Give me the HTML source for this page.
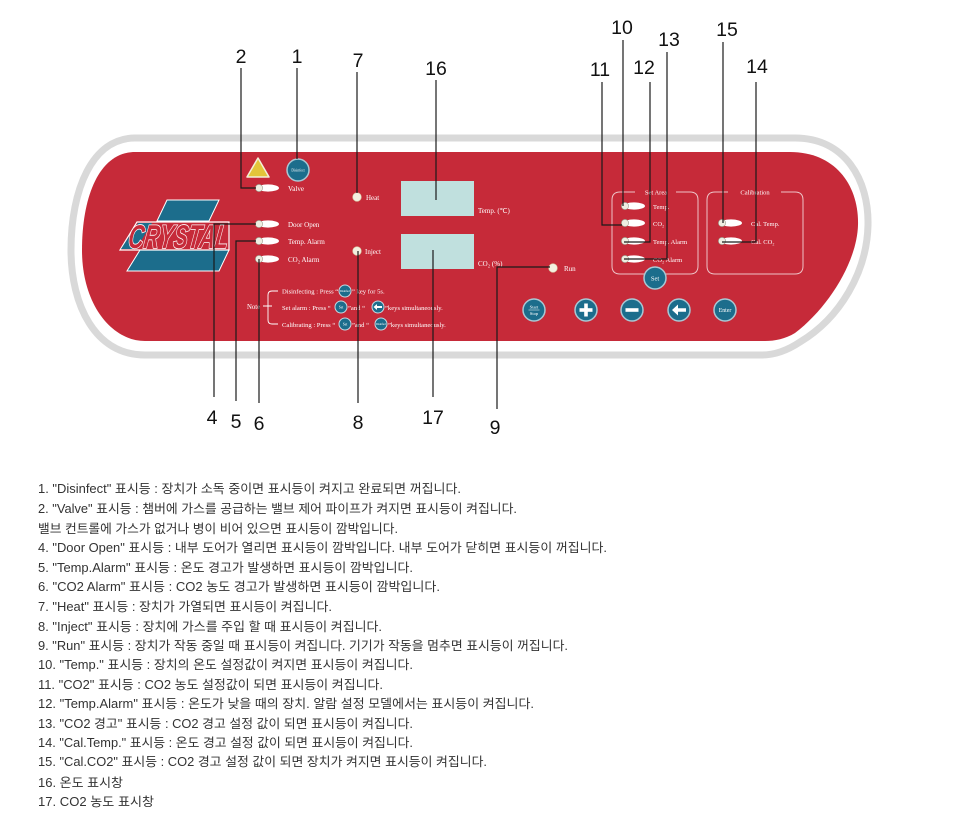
<!DOCTYPE html>
<html>
<head>
<meta charset="utf-8">
<style>
  html,body{margin:0;padding:0;background:#fff;}
  body{width:977px;height:820px;overflow:hidden;}
  svg{display:block;}
  .lbl{font-family:"Liberation Serif",serif;fill:#fff;}
  .num{font-family:"Liberation Sans",sans-serif;font-size:19.5px;fill:#111;text-anchor:middle;}
  .ln{stroke:#1a1a1a;stroke-width:1.2;fill:none;}
  .lst{font-family:"Liberation Sans","Noto Sans CJK KR",sans-serif;font-size:12.5px;fill:#333;}
  .btn{fill:#1c6d8c;stroke:#a9c8d4;stroke-width:1.5;}
  .sbtn{fill:#1c6d8c;stroke:#c6d9e1;stroke-width:1;}
</style>
</head>
<body>
<svg width="977" height="820" viewBox="0 0 977 820" xmlns="http://www.w3.org/2000/svg">
  <!-- outer gray ring -->
  <path d="M135,138 L795,138 C845,138 869,180 868,225 C867,272 840,318 800,342 C788,350 775,355 762,355 L145,355 C95,355 71,305 71,250 C71,190 92,138 135,138 Z" fill="none" stroke="#d9d9d9" stroke-width="7"/>
  <!-- red panel -->
  <path d="M135,152 L790,152 C835,152 859,185 858,225 C857,262 828,308 795,333 C785,339 775,341 765,341 L145,341 C112,341 82,305 82,250 C82,195 100,152 135,152 Z" fill="#c62a39"/>

  <!-- CRYSTAL logo -->
  <polygon points="167,200 219,200 209,221 157,221" fill="#1c6d8c" stroke="#fff" stroke-width="1"/>
  <polygon points="140,250 229,250 219,271 127,271" fill="#1c6d8c" stroke="#fff" stroke-width="1"/>
  <polygon points="137,222 229,222 229,250 120,250" fill="#c62a39" stroke="#fff" stroke-width="1.2"/>
  <polygon points="138,223 152,223 136,249 121,249" fill="#1c6d8c"/>
  <text x="127" y="248" font-family="Liberation Sans,sans-serif" font-weight="bold" font-style="italic" font-size="33" textLength="100" lengthAdjust="spacingAndGlyphs" fill="#c62a39" stroke="#fff" stroke-width="1.6" paint-order="stroke" transform="skewX(-8) translate(35,0)">CRYSTAL</text>

  <!-- warning triangle -->
  <polygon points="258,158 247,177 269,177" fill="#e3c53a" stroke="#f3f0d8" stroke-width="1.5" stroke-linejoin="round"/>
  <!-- disinfect button -->
  <circle cx="298" cy="170" r="11" class="btn"/>
  <text x="298" y="171.5" class="lbl" font-size="3.6" text-anchor="middle">Disinfect</text>

  <!-- LEDs left -->
  <g>
    <ellipse cx="268" cy="188" rx="11" ry="3.6" fill="#fff"/><circle cx="259" cy="188" r="3.6" fill="#eeeee2" stroke="#9a9a8a" stroke-width="0.6"/>
    <ellipse cx="268" cy="224" rx="11" ry="3.6" fill="#fff"/><circle cx="259" cy="224" r="3.6" fill="#eeeee2" stroke="#9a9a8a" stroke-width="0.6"/>
    <ellipse cx="268" cy="241" rx="11" ry="3.6" fill="#fff"/><circle cx="259" cy="241" r="3.6" fill="#eeeee2" stroke="#9a9a8a" stroke-width="0.6"/>
    <ellipse cx="268" cy="259" rx="11" ry="3.6" fill="#fff"/><circle cx="259" cy="259" r="3.6" fill="#eeeee2" stroke="#9a9a8a" stroke-width="0.6"/>
  </g>
  <text x="288" y="191" class="lbl" font-size="7">Valve</text>
  <text x="288" y="227" class="lbl" font-size="7">Door Open</text>
  <text x="288" y="244" class="lbl" font-size="7">Temp.  Alarm</text>
  <text x="288" y="262" class="lbl" font-size="7">CO₂ Alarm</text>

  <!-- Heat / Inject / Run -->
  <circle cx="357" cy="197" r="4.3" fill="#f3f0e0" stroke="#d8cfa8" stroke-width="0.6"/>
  <text x="366" y="200" class="lbl" font-size="7">Heat</text>
  <circle cx="357" cy="251" r="4.3" fill="#f3f0e0" stroke="#d8cfa8" stroke-width="0.6"/>
  <text x="365" y="254" class="lbl" font-size="7">Inject</text>
  <circle cx="553" cy="268" r="4.3" fill="#f3f0e0" stroke="#d8cfa8" stroke-width="0.6"/>
  <text x="564" y="271" class="lbl" font-size="7">Run</text>

  <!-- displays -->
  <rect x="401" y="181" width="73" height="35" fill="#c0e0de"/>
  <rect x="401" y="234" width="73" height="35" fill="#c0e0de"/>
  <text x="478" y="213" class="lbl" font-size="7">Temp. (℃)</text>
  <text x="478" y="266" class="lbl" font-size="7">CO₂ (%)</text>

  <!-- Note section -->
  <text x="247" y="309" class="lbl" font-size="6.8">Note</text>
  <path d="M263,306 H272 M278,291 H272 Q268,291 268,295 V320 Q268,324 272,324 H278" stroke="#fff" stroke-width="0.9" fill="none"/>
  <text x="282" y="293.5" class="lbl" font-size="6.6">Disinfecting : Press “</text>
  <circle cx="345" cy="291" r="6" class="sbtn"/>
  <text x="345" y="292" class="lbl" font-size="2.8" text-anchor="middle">Disinfect</text>
  <text x="352" y="293.5" class="lbl" font-size="6.6">” key for 5s.</text>

  <text x="282" y="310" class="lbl" font-size="6.6">Set alarm : Press  “</text>
  <circle cx="341" cy="307" r="6" class="sbtn"/>
  <text x="341" y="308.5" class="lbl" font-size="3.6" text-anchor="middle">Set</text>
  <text x="348" y="310" class="lbl" font-size="6.6">”and  “</text>
  <circle cx="378" cy="307" r="6" class="sbtn"/>
  <path d="M373.5,307 L377,304 L377,306 L382,306 L382,308 L377,308 L377,310 Z" fill="#fff"/>
  <text x="385" y="310" class="lbl" font-size="6.6">”keys simultaneously.</text>

  <text x="282" y="327" class="lbl" font-size="6.6">Calibrating : Press  “</text>
  <circle cx="345" cy="324" r="6" class="sbtn"/>
  <text x="345" y="325.5" class="lbl" font-size="3.6" text-anchor="middle">Set</text>
  <text x="352" y="327" class="lbl" font-size="6.6">”and  “</text>
  <circle cx="381" cy="324" r="6" class="sbtn"/>
  <text x="381" y="325" class="lbl" font-size="2.8" text-anchor="middle">Disinfect</text>
  <text x="388" y="327" class="lbl" font-size="6.6">”keys simultaneously.</text>

  <!-- Set Area box -->
  <path d="M635,192 L620,192 Q612,192 612,200 L612,266 Q612,274 620,274 L690,274 Q698,274 698,266 L698,200 Q698,192 690,192 L676,192" stroke="#edc3c7" stroke-width="1" fill="none"/>
  <text x="656" y="194.5" class="lbl" font-size="6.5" text-anchor="middle">Set Area</text>
  <g>
    <ellipse cx="634" cy="206" rx="11" ry="3.6" fill="#fff"/><circle cx="625" cy="206" r="3.6" fill="#eeeee2" stroke="#9a9a8a" stroke-width="0.6"/>
    <ellipse cx="634" cy="223" rx="11" ry="3.6" fill="#fff"/><circle cx="625" cy="223" r="3.6" fill="#eeeee2" stroke="#9a9a8a" stroke-width="0.6"/>
    <ellipse cx="634" cy="241" rx="11" ry="3.6" fill="#fff"/><circle cx="625" cy="241" r="3.6" fill="#eeeee2" stroke="#9a9a8a" stroke-width="0.6"/>
    <ellipse cx="634" cy="259" rx="11" ry="3.6" fill="#fff"/><circle cx="625" cy="259" r="3.6" fill="#eeeee2" stroke="#9a9a8a" stroke-width="0.6"/>
  </g>
  <text x="653" y="209" class="lbl" font-size="6.5">Temp.</text>
  <text x="653" y="226" class="lbl" font-size="6.5">CO₂</text>
  <text x="653" y="244" class="lbl" font-size="6.5">Temp. Alarm</text>
  <text x="653" y="262" class="lbl" font-size="6.5">CO₂ Alarm</text>
  <circle cx="655" cy="278" r="11" class="btn"/>
  <text x="655" y="280.5" class="lbl" font-size="6.5" text-anchor="middle">Set</text>

  <!-- Calibration box -->
  <path d="M728,192 L715,192 Q707,192 707,200 L707,266 Q707,274 715,274 L795,274 Q803,274 803,266 L803,200 Q803,192 795,192 L781,192" stroke="#edc3c7" stroke-width="1" fill="none"/>
  <text x="755" y="194.5" class="lbl" font-size="6.5" text-anchor="middle">Calibration</text>
  <g>
    <ellipse cx="731" cy="223" rx="11" ry="3.6" fill="#fff"/><circle cx="722" cy="223" r="3.6" fill="#eeeee2" stroke="#9a9a8a" stroke-width="0.6"/>
    <ellipse cx="731" cy="241" rx="11" ry="3.6" fill="#fff"/><circle cx="722" cy="241" r="3.6" fill="#eeeee2" stroke="#9a9a8a" stroke-width="0.6"/>
  </g>
  <text x="751" y="226" class="lbl" font-size="6.5">Cal. Temp.</text>
  <text x="751" y="244" class="lbl" font-size="6.5">Cal. CO₂</text>

  <!-- bottom buttons -->
  <circle cx="534" cy="310" r="11" class="btn"/>
  <text x="534" y="308.5" class="lbl" font-size="4.6" text-anchor="middle">Start</text>
  <line x1="528.5" y1="310" x2="539.5" y2="310" stroke="#fff" stroke-width="0.5"/>
  <text x="534" y="315" class="lbl" font-size="4.6" text-anchor="middle">Stop</text>

  <circle cx="586" cy="310" r="11" class="btn"/>
  <rect x="579.5" y="308.2" width="13" height="3.6" fill="#fff"/>
  <rect x="584.2" y="303.5" width="3.6" height="13" fill="#fff"/>

  <circle cx="632" cy="310" r="11" class="btn"/>
  <rect x="625.5" y="308.2" width="13" height="3.6" fill="#fff"/>

  <circle cx="679" cy="310" r="11" class="btn"/>
  <path d="M672,310 L678,304.5 L678,308.2 L686,308.2 L686,311.8 L678,311.8 L678,315.5 Z" fill="#fff"/>

  <circle cx="725" cy="310" r="11" class="btn"/>
  <text x="725" y="312" class="lbl" font-size="5.8" text-anchor="middle">Enter</text>

  <!-- leader lines -->
  <path class="ln" d="M297,68 V159"/>
  <path class="ln" d="M241,68 V188 H256"/>
  <path class="ln" d="M357,72 V193"/>
  <path class="ln" d="M436,80 V200"/>
  <path class="ln" d="M623,40 V206"/>
  <path class="ln" d="M602,82 V225 H622"/>
  <path class="ln" d="M650,82 V242 H624"/>
  <path class="ln" d="M667,52 V259 H624"/>
  <path class="ln" d="M723,42 V223"/>
  <path class="ln" d="M756,82 V242 H722"/>
  <path class="ln" d="M214,397 V224 H256"/>
  <path class="ln" d="M236,401 V241 H256"/>
  <path class="ln" d="M259,403 V259"/>
  <path class="ln" d="M358,403 V251"/>
  <path class="ln" d="M433,397 V250"/>
  <path class="ln" d="M497,409 V267 H550"/>

  <!-- numbers -->
  <text class="num" x="241" y="63">2</text>
  <text class="num" x="297" y="63">1</text>
  <text class="num" x="358" y="67">7</text>
  <text class="num" x="436" y="75">16</text>
  <text class="num" x="622" y="34">10</text>
  <text class="num" x="669" y="46">13</text>
  <text class="num" x="600" y="76">11</text>
  <text class="num" x="644" y="74">12</text>
  <text class="num" x="727" y="36">15</text>
  <text class="num" x="757" y="73">14</text>
  <text class="num" x="212" y="424">4</text>
  <text class="num" x="236" y="428">5</text>
  <text class="num" x="259" y="430">6</text>
  <text class="num" x="358" y="429">8</text>
  <text class="num" x="433" y="424">17</text>
  <text class="num" x="495" y="434">9</text>

  <!-- description list -->
  <text class="lst" x="38" y="493" textLength="423" lengthAdjust="spacingAndGlyphs">1. "Disinfect" 표시등 : 장치가 소독 중이면 표시등이 켜지고 완료되면 꺼집니다.</text>
  <text class="lst" x="38" y="513" textLength="479" lengthAdjust="spacingAndGlyphs">2. "Valve" 표시등 : 챔버에 가스를 공급하는 밸브 제어 파이프가 켜지면 표시등이 켜집니다.</text>
  <text class="lst" x="38" y="533" textLength="360" lengthAdjust="spacingAndGlyphs">밸브 컨트롤에 가스가 없거나 병이 비어 있으면 표시등이 깜박입니다.</text>
  <text class="lst" x="38" y="552" textLength="569" lengthAdjust="spacingAndGlyphs">4. "Door Open" 표시등 : 내부 도어가 열리면 표시등이 깜박입니다. 내부 도어가 닫히면 표시등이 꺼집니다.</text>
  <text class="lst" x="38" y="572" textLength="375" lengthAdjust="spacingAndGlyphs">5. "Temp.Alarm" 표시등 : 온도 경고가 발생하면 표시등이 깜박입니다.</text>
  <text class="lst" x="38" y="591" textLength="402" lengthAdjust="spacingAndGlyphs">6. "CO2 Alarm" 표시등 : CO2 농도 경고가 발생하면 표시등이 깜박입니다.</text>
  <text class="lst" x="38" y="611" textLength="294" lengthAdjust="spacingAndGlyphs">7. "Heat" 표시등 : 장치가 가열되면 표시등이 켜집니다.</text>
  <text class="lst" x="38" y="631" textLength="344" lengthAdjust="spacingAndGlyphs">8. "Inject" 표시등 : 장치에 가스를 주입 할 때 표시등이 켜집니다.</text>
  <text class="lst" x="38" y="650" textLength="530" lengthAdjust="spacingAndGlyphs">9. "Run" 표시등 : 장치가 작동 중일 때 표시등이 켜집니다. 기기가 작동을 멈추면 표시등이 꺼집니다.</text>
  <text class="lst" x="38" y="669" textLength="375" lengthAdjust="spacingAndGlyphs">10. "Temp." 표시등 : 장치의 온도 설정값이 켜지면 표시등이 켜집니다.</text>
  <text class="lst" x="38" y="689" textLength="345" lengthAdjust="spacingAndGlyphs">11. "CO2" 표시등 : CO2 농도 설정값이 되면 표시등이 켜집니다.</text>
  <text class="lst" x="38" y="708" textLength="496" lengthAdjust="spacingAndGlyphs">12. "Temp.Alarm" 표시등 : 온도가 낮을 때의 장치. 알람 설정 모델에서는 표시등이 켜집니다.</text>
  <text class="lst" x="38" y="728" textLength="375" lengthAdjust="spacingAndGlyphs">13. "CO2 경고" 표시등 : CO2 경고 설정 값이 되면 표시등이 켜집니다.</text>
  <text class="lst" x="38" y="747" textLength="375" lengthAdjust="spacingAndGlyphs">14. "Cal.Temp." 표시등 : 온도 경고 설정 값이 되면 표시등이 켜집니다.</text>
  <text class="lst" x="38" y="766" textLength="449" lengthAdjust="spacingAndGlyphs">15. "Cal.CO2" 표시등 : CO2 경고 설정 값이 되면 장치가 켜지면 표시등이 켜집니다.</text>
  <text class="lst" x="38" y="787" textLength="85" lengthAdjust="spacingAndGlyphs">16. 온도 표시창</text>
  <text class="lst" x="38" y="806" textLength="116" lengthAdjust="spacingAndGlyphs">17. CO2 농도 표시창</text>
</svg>
</body>
</html>
